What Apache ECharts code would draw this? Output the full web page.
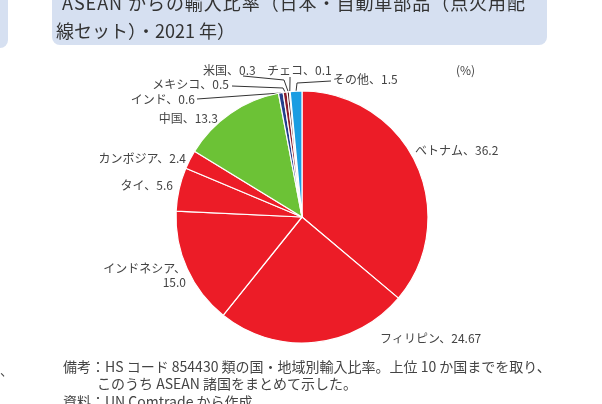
<!DOCTYPE html>
<html><head><meta charset="utf-8">
<script src="https://cdn.jsdelivr.net/npm/echarts@6/dist/echarts.min.js"></script>
<style>html,body{margin:0;padding:0;background:#fff}#c{width:602px;height:404px}</style>
</head><body><div id="c"></div>
<script>
const categories = ['ベトナム','フィリピン','インドネシア','タイ','カンボジア','中国','インド','メキシコ','米国','チェコ','その他'];
const values = [36.2, 24.67, 15.0, 5.6, 2.4, 13.3, 0.6, 0.5, 0.3, 0.1, 1.5];
const valueLabels = ['36.2','24.67','15.0','5.6','2.4','13.3','0.6','0.5','0.3','0.1','1.5'];
const titleLines = ['ASEAN からの輸入比率（日本・自動車部品（点火用配', '線セット）・2021 年）'];
const noteLines = ['備考：HS コード 854430 類の国・地域別輸入比率。上位 10 か国までを取り、', 'このうち ASEAN 諸国をまとめて示した。', '資料：UN Comtrade から作成'];
const unitLabel = '(%)';

const colors = ['#ec1c27','#ec1c27','#ec1c27','#ec1c27','#ec1c27','#6cc236','#233f8c','#8a1c2c','#4a1a1e','#2a2a2a','#1b9de2'];
// label placement (style/layout only)
const labelPlace = [
  {x:415,y:150,align:'left'},
  {x:380,y:338,align:'left'},
  {x:186,y:275,align:'right'},
  {x:173,y:185,align:'right'},
  {x:186,y:158,align:'right'},
  {x:218,y:118,align:'right'},
  {x:195,y:99,align:'right', line:[[281,93],[197,99]]},
  {x:229,y:84,align:'right', line:[[283,88],[232,86]]},
  {x:203,y:70,align:'left', line:[[284,80],[243,76]]},
  {x:267,y:70,align:'left', line:[[290,80],[290,77]]},
  {x:333,y:79,align:'left', line:[[297,83],[331,81]]}
];
const FONT = '"Noto Sans CJK JP","Noto Sans",sans-serif';
const data = categories.map((n,i)=>({
  name:n, value:values[i],
  itemStyle:{color:colors[i]},
  label:{formatter: i===2 ? n+'、\n'+valueLabels[i] : n+'、'+valueLabels[i]},
  labelLine:{show: !!labelPlace[i].line}
}));

// justified first title line: spread characters across the target width
const TITLE_FONT = '18px ' + FONT;
function justifiedText(str, x0, x1, y){
  const ctx = document.createElement('canvas').getContext('2d');
  ctx.font = TITLE_FONT;
  const chars = Array.from(str);
  const widths = chars.map(c=>ctx.measureText(c).width);
  const total = widths.reduce((a,b)=>a+b,0);
  const extra = (x1 - x0 - total) / (chars.length - 1);
  const els = [];
  let x = x0;
  chars.forEach((c,i)=>{
    els.push({type:'text', x:x, y:y, style:{text:c, font:TITLE_FONT, fill:'#333', verticalAlign:'middle'}});
    x += widths[i] + extra;
  });
  return els;
}

const chart = echarts.init(document.getElementById('c'), null, {renderer:'canvas'});
chart.setOption({
  animation:false,
  graphic:[
    {type:'rect', shape:{x:-20,y:-20,width:28,height:68,r:8}, style:{fill:'#d6e0f1'}},
    {type:'rect', shape:{x:52,y:-20,width:495,height:65,r:8}, style:{fill:'#d6e0f1'}},
    ...justifiedText(titleLines[0], 62, 525, 3),
    {type:'text', x:56, y:31, style:{text:titleLines[1], font:TITLE_FONT, fill:'#333', verticalAlign:'middle'}},
    {type:'text', x:456, y:70, style:{text:unitLabel, font:'12px '+FONT, fill:'#444', verticalAlign:'middle'}},
    {type:'text', x:0, y:370, style:{text:'、', font:'13px '+FONT, fill:'#444', verticalAlign:'middle'}},
    {type:'text', x:63, y:367, style:{text:noteLines[0], font:'14px '+FONT, fill:'#444', verticalAlign:'middle'}},
    {type:'text', x:97, y:384, style:{text:noteLines[1], font:'14px '+FONT, fill:'#444', verticalAlign:'middle'}},
    {type:'text', x:63, y:402, style:{text:noteLines[2], font:'14px '+FONT, fill:'#444', verticalAlign:'middle'}}
  ],
  series:[{
    type:'pie',
    center:[302,217],
    radius:[0,126],
    startAngle:90,
    clockwise:true,
    avoidLabelOverlap:false,
    itemStyle:{borderColor:'#fff', borderWidth:1.2},
    label:{show:true, position:'outside', color:'#444', fontSize:12, fontFamily:FONT, lineHeight:14},
    labelLine:{lineStyle:{color:'#333', width:1}, length:5, length2:5},
    emphasis:{disabled:true},
    data:data,
    labelLayout:function(p){
      const lp = labelPlace[p.dataIndex];
      const out = {x:lp.x, y:lp.y, align:lp.align, verticalAlign:'middle', hideOverlap:false, moveOverlap:null};
      if (lp.line && p.labelLinePoints) {
        out.labelLinePoints = [p.labelLinePoints[0], lp.line[0], lp.line[1]];
      }
      return out;
    }
  }]
});
</script></body></html>
